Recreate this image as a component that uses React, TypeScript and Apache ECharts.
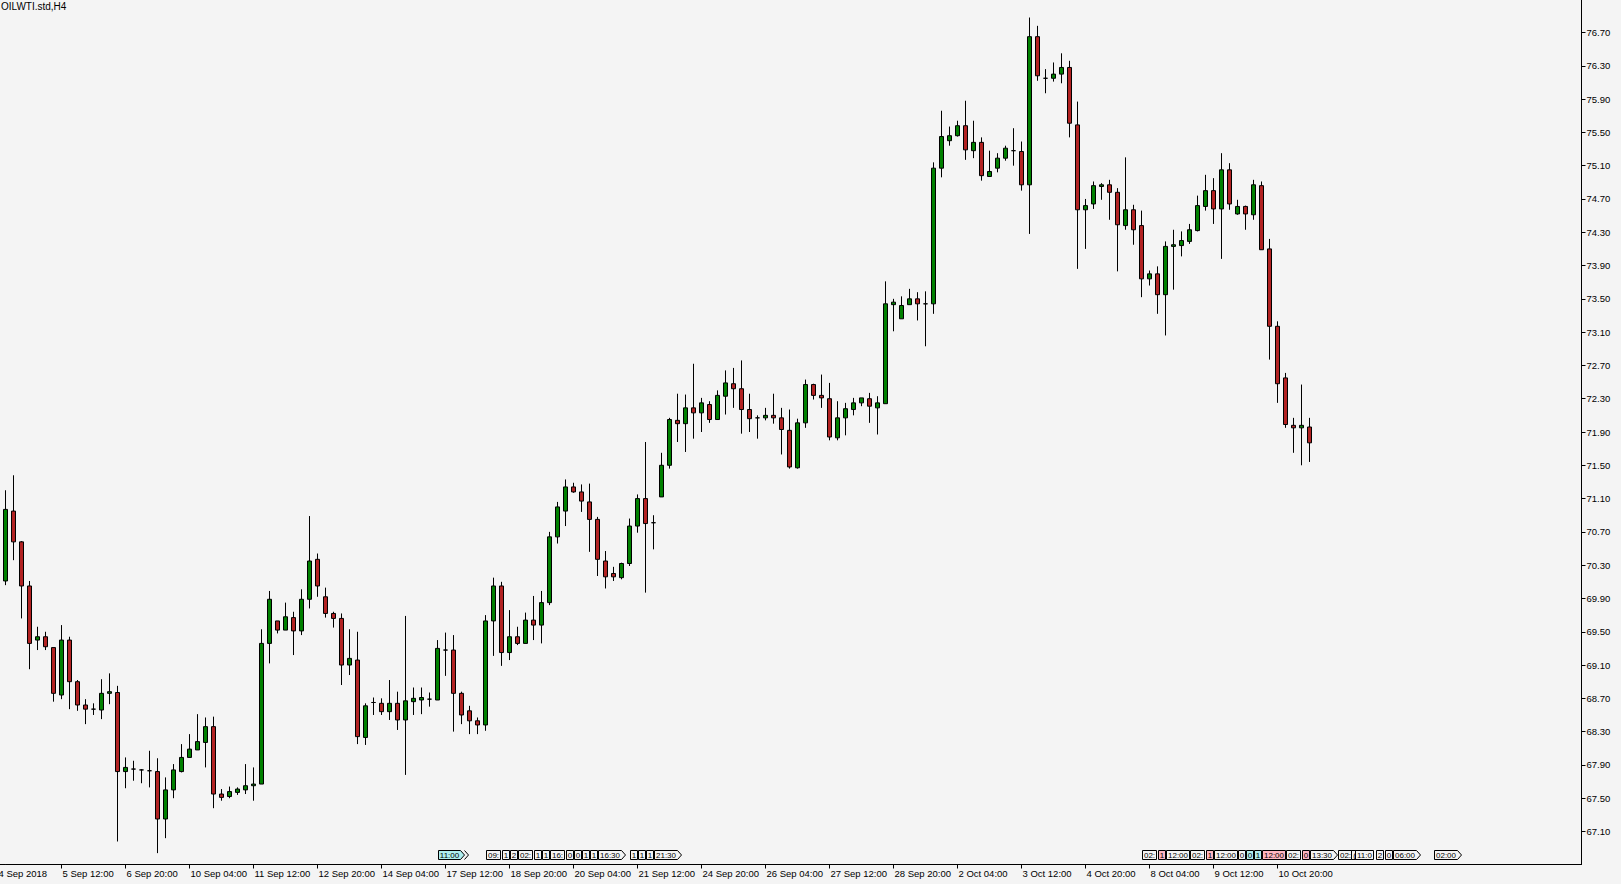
import React, { useEffect, useRef } from "react";
import * as echarts from "echarts";

const symbolTitle = "OILWTI.std,H4";

// H4 bars, oldest first (bar 0 = 4 Sep 2018 08:00)
const openP = [
  70.11, 70.95, 70.58, 70.05, 69.40, 69.44, 69.31, 68.74, 69.40, 68.90,
  68.62, 68.57, 68.56, 68.76, 68.77, 67.82, 67.85, 67.84, 67.83, 67.82,
  67.25, 67.60, 67.82, 67.99, 68.08, 68.17, 68.36, 67.55, 67.52, 67.57,
  67.60, 67.65, 67.67, 69.36, 69.63, 69.52, 69.67, 69.51, 69.89, 70.37,
  69.92, 69.72, 69.66, 69.10, 69.16, 68.23, 68.65, 68.64, 68.54, 68.64,
  68.44, 68.66, 68.68, 68.69, 68.68, 69.28, 69.28, 68.76, 68.55, 68.43,
  68.38, 69.63, 70.05, 69.25, 69.44, 69.36, 69.64, 69.58, 69.85, 70.64,
  70.95, 71.24, 71.18, 71.06, 70.85, 70.35, 70.20, 70.15, 70.32, 70.77,
  71.10, 70.81, 71.12, 71.50, 72.04, 72.00, 72.19, 72.13, 72.23, 72.05,
  72.33, 72.48, 72.42, 72.17, 72.07, 72.07, 72.10, 72.07, 71.92, 71.47,
  72.01, 72.47, 72.34, 72.30, 71.83, 72.07, 72.17, 72.25, 72.30, 72.19,
  72.24, 73.43, 73.26, 73.43, 73.50, 73.44, 73.44, 75.07, 75.40, 75.46,
  75.58, 75.28, 75.38, 74.97, 75.07, 75.19, 75.28, 75.27, 74.87, 76.65,
  76.15, 76.15, 76.20, 76.28, 75.59, 74.57, 74.64, 74.85, 74.87, 74.78,
  74.38, 74.57, 74.38, 73.74, 73.80, 73.55, 74.13, 74.14, 74.19, 74.32,
  74.61, 74.80, 74.58, 75.05, 74.52, 74.61, 74.51, 74.86, 74.10, 73.17,
  72.55, 71.98, 71.95, 71.96,
];
const highP = [
  71.20, 71.38, 70.59, 70.11, 69.56, 69.50, 69.31, 69.58, 69.44, 68.92,
  68.69, 68.64, 68.93, 69.00, 68.85, 67.99, 67.95, 67.85, 68.07, 67.98,
  67.75, 67.91, 68.15, 68.27, 68.51, 68.47, 68.48, 67.61, 67.64, 67.63,
  67.91, 67.87, 69.53, 69.99, 69.63, 69.85, 69.74, 70.01, 70.89, 70.44,
  70.03, 69.74, 69.72, 69.53, 69.50, 68.64, 68.71, 68.70, 68.92, 68.78,
  69.69, 68.83, 68.83, 68.77, 69.40, 69.49, 69.46, 68.78, 68.61, 68.47,
  69.70, 70.15, 70.10, 69.76, 69.56, 69.73, 69.93, 69.99, 70.70, 71.06,
  71.33, 71.29, 71.27, 71.28, 70.88, 70.47, 70.28, 70.33, 70.86, 71.15,
  71.78, 70.90, 71.65, 72.07, 72.36, 72.35, 72.72, 72.31, 72.27, 72.40,
  72.64, 72.67, 72.76, 72.36, 72.10, 72.19, 72.36, 72.19, 72.17, 72.06,
  72.53, 72.48, 72.59, 72.49, 72.27, 72.25, 72.31, 72.31, 72.37, 72.33,
  73.71, 73.50, 73.53, 73.62, 73.58, 73.59, 75.14, 75.76, 75.57, 75.64,
  75.88, 75.64, 75.44, 75.28, 75.25, 75.34, 75.55, 75.39, 76.88, 76.78,
  76.26, 76.34, 76.45, 76.36, 75.87, 74.70, 74.91, 74.89, 74.93, 74.83,
  75.20, 74.63, 74.56, 73.84, 73.89, 74.19, 74.33, 74.31, 74.40, 74.74,
  74.99, 74.95, 75.25, 75.13, 74.69, 74.62, 74.93, 74.91, 74.22, 73.23,
  72.61, 72.07, 72.47, 72.07,
];
const lowP = [
  70.06, 70.36, 69.66, 69.05, 69.28, 69.28, 68.66, 68.69, 68.57, 68.55,
  68.39, 68.50, 68.45, 68.63, 66.98, 67.62, 67.71, 67.68, 67.63, 66.84,
  67.02, 67.50, 67.81, 67.99, 68.08, 67.87, 67.38, 67.47, 67.50, 67.54,
  67.55, 67.47, 67.67, 69.12, 69.48, 69.52, 69.22, 69.46, 69.78, 69.92,
  69.67, 69.55, 68.86, 68.98, 68.15, 68.14, 68.50, 68.50, 68.44, 68.32,
  67.78, 68.50, 68.51, 68.60, 68.68, 68.97, 68.30, 68.39, 68.27, 68.27,
  68.31, 69.21, 69.09, 69.16, 69.34, 69.36, 69.40, 69.36, 69.82, 70.56,
  70.77, 71.17, 70.94, 70.46, 70.17, 70.02, 70.11, 70.13, 70.29, 70.69,
  69.97, 70.49, 71.12, 71.46, 71.78, 71.66, 71.82, 71.90, 72.01, 72.05,
  72.11, 72.19, 71.88, 71.90, 71.82, 72.04, 72.00, 71.63, 71.46, 71.46,
  71.95, 72.29, 72.19, 71.80, 71.80, 71.86, 72.10, 72.21, 72.01, 71.87,
  72.24, 73.11, 73.26, 73.43, 73.24, 72.93, 73.32, 74.96, 75.34, 75.45,
  75.17, 75.19, 74.92, 74.97, 75.02, 75.16, 75.10, 74.80, 74.28, 76.12,
  75.97, 76.11, 76.09, 75.44, 73.86, 74.10, 74.58, 74.69, 74.45, 73.83,
  74.33, 74.15, 73.52, 73.66, 73.32, 73.06, 73.61, 74.01, 74.16, 74.31,
  74.56, 74.40, 73.98, 74.57, 74.51, 74.33, 74.45, 74.09, 72.77, 72.25,
  71.95, 71.65, 71.50, 71.54,
];
const closeP = [
  70.97, 70.58, 70.05, 69.36, 69.44, 69.32, 68.76, 69.40, 68.90, 68.62,
  68.57, 68.57, 68.76, 68.78, 67.82, 67.87, 67.85, 67.84, 67.83, 67.25,
  67.60, 67.84, 67.99, 68.09, 68.18, 68.36, 67.55, 67.51, 67.58, 67.61,
  67.65, 67.67, 69.36, 69.89, 69.52, 69.68, 69.51, 69.89, 70.35, 70.05,
  69.72, 69.66, 69.10, 69.18, 68.24, 68.61, 68.65, 68.54, 68.64, 68.44,
  68.67, 68.70, 68.71, 68.69, 69.30, 69.28, 68.76, 68.50, 68.43, 68.38,
  69.63, 70.05, 69.25, 69.44, 69.36, 69.64, 69.58, 69.85, 70.64, 71.00,
  71.24, 71.18, 71.07, 70.85, 70.37, 70.16, 70.16, 70.32, 70.77, 71.10,
  70.80, 70.81, 71.50, 72.05, 72.00, 72.19, 72.13, 72.25, 72.05, 72.34,
  72.49, 72.42, 72.17, 72.06, 72.07, 72.10, 72.07, 71.93, 71.48, 72.01,
  72.47, 72.34, 72.31, 71.84, 72.07, 72.18, 72.25, 72.31, 72.21, 72.25,
  73.44, 73.46, 73.42, 73.50, 73.44, 73.44, 75.07, 75.45, 75.46, 75.58,
  75.29, 75.38, 74.98, 75.03, 75.19, 75.31, 75.28, 74.87, 76.65, 76.18,
  76.15, 76.20, 76.28, 75.61, 74.57, 74.62, 74.86, 74.87, 74.78, 74.39,
  74.57, 74.33, 73.74, 73.80, 73.55, 74.13, 74.15, 74.20, 74.33, 74.62,
  74.80, 74.58, 75.05, 74.64, 74.61, 74.52, 74.87, 74.09, 73.17, 72.48,
  71.99, 71.95, 71.98, 71.77,
];

// number of bar slots visible on the time axis (data + empty space on the right)
const barSlots = 198;
const categories = Array.from({ length: barSlots }, (_, i) => String(i));

// time-axis labels: the first one sits one bar before the first visible bar
const firstDateLabel = "4 Sep 2018";
const xTickBars = [7, 15, 23, 31, 39, 47, 55, 63, 71, 79, 87, 95, 103, 111, 119, 127, 135, 143, 151, 159];
const xTickLabels = [
  "5 Sep 12:00", "6 Sep 20:00", "10 Sep 04:00", "11 Sep 12:00", "12 Sep 20:00",
  "14 Sep 04:00", "17 Sep 12:00", "18 Sep 20:00", "20 Sep 04:00", "21 Sep 12:00",
  "24 Sep 20:00", "26 Sep 04:00", "27 Sep 12:00", "28 Sep 20:00", "2 Oct 04:00",
  "3 Oct 12:00", "4 Oct 20:00", "8 Oct 04:00", "9 Oct 12:00", "10 Oct 20:00",
];

// price scale
const priceMin = 66.7035;
const priceMax = 77.0905;
const priceTicks = [
  67.1, 67.5, 67.9, 68.3, 68.7, 69.1, 69.5, 69.9, 70.3, 70.7, 71.1, 71.5, 71.9,
  72.3, 72.7, 73.1, 73.5, 73.9, 74.3, 74.7, 75.1, 75.5, 75.9, 76.3, 76.7,
];

// economic calendar event tags along the time axis
const eventBars = [
  54, 60, 62, 63, 64, 66, 67, 68, 70, 71, 72, 73, 74, 78, 79, 80, 81,
  142, 144, 145, 148, 150, 151, 154, 155, 156, 157, 160, 162, 163, 166.5, 168.2, 168.7, 171.3, 172.4, 173.4, 178.5,
];
const eventTexts = [
  "11:00", "09:", "1", "2", "02:", "1", "1", "16:", "0", "0", "1", "1", "16:30", "1", "1", "1", "21:30",
  "02:", "1", "12:00", "02:", "1", "12:00", "0", "0", "1", "12:00", "02:", "0", "13:30", "02:", "(", "11:0", "2", "0", "06:00", "02:00",
];
const eventImpact = [
  1, 0, 0, 0, 0, 0, 0, 0, 0, 0, 0, 0, 0, 0, 0, 0, 0,
  0, 2, 0, 0, 2, 0, 0, 1, 1, 2, 0, 2, 0, 0, 0, 0, 0, 0, 0, 0,
];
const eventArrows = [
  2, 0, 0, 0, 0, 0, 0, 0, 0, 0, 0, 0, 1, 0, 0, 0, 1,
  0, 0, 0, 0, 0, 0, 0, 0, 0, 0, 0, 0, 1, 0, 0, 0, 0, 0, 1, 1,
];

const FONT = "'Liberation Sans', Arial, sans-serif";
const BULL = "#008000";
const BEAR = "#b22222";
const BG = "#f4f4f4";
const IMPACT_FILL = [BG, "#afeeee", "#ffb6c1"];

export default function App() {
  const ref = useRef<HTMLDivElement>(null);

  useEffect(() => {
    const el = ref.current;
    if (!el) return;
    const chart = echarts.init(el, undefined, { renderer: "svg" });

    const labelMap = new Map<number, string>();
    xTickBars.forEach((b, i) => labelMap.set(b, xTickLabels[i]));
    const showAt = (i: number) => labelMap.has(i);

    const candleData = openP.map((o, i) => [o, closeP[i], lowP[i], highP[i]]);

    chart.setOption({
      animation: false,
      backgroundColor: BG,
      grid: { left: 5.5, right: 39.5, top: 0, bottom: 19.5, containLabel: false },
      xAxis: {
        type: "category",
        data: categories,
        boundaryGap: false,
        axisLine: { show: true, onZero: false, lineStyle: { color: "#000", width: 1 } },
        axisTick: { show: true, length: 4, interval: (i: number) => showAt(i), lineStyle: { color: "#000" } },
        axisLabel: {
          show: true,
          interval: (i: number) => showAt(i),
          formatter: (v: string) => labelMap.get(Number(v)) ?? "",
          align: "left",
          margin: 4,
          color: "#000",
          fontFamily: FONT,
          fontSize: 9.5,
          padding: [0, 0, 0, 1],
        },
        splitLine: { show: false },
      },
      yAxis: {
        type: "value",
        position: "right",
        min: priceMin,
        max: priceMax,
        axisLine: { show: true, onZero: false, lineStyle: { color: "#000", width: 1 } },
        axisTick: { show: true, length: 4, customValues: priceTicks, lineStyle: { color: "#000" } },
        axisLabel: {
          show: true,
          customValues: priceTicks,
          formatter: (v: number) => v.toFixed(2),
          margin: 5,
          color: "#000",
          fontFamily: FONT,
          fontSize: 9.5,
        },
        splitLine: { show: false },
      },
      series: [
        {
          type: "candlestick",
          data: candleData,
          barWidth: 4,
          clip: false,
          itemStyle: {
            color: BULL,
            color0: BEAR,
            borderColor: "#000",
            borderColor0: "#000",
            borderWidth: 1,
          },
        },
      ],
    });

    const x0 = chart.convertToPixel({ xAxisIndex: 0 }, "0") as number;
    const x1 = chart.convertToPixel({ xAxisIndex: 0 }, "1") as number;
    const step = x1 - x0;
    const yBase = chart.convertToPixel({ yAxisIndex: 0 }, priceMin) as number;

    const canvas = document.createElement("canvas");
    const ctx = canvas.getContext("2d");
    const measure = (t: string) => {
      if (!ctx) return t.length * 4.5;
      ctx.font = `8px ${FONT}`;
      return ctx.measureText(t).width;
    };

    const graphics: any[] = [];
    graphics.push({
      type: "text",
      x: 1,
      y: 1,
      silent: true,
      style: { text: symbolTitle, fontSize: 10, fontFamily: FONT, fill: "#000", align: "left", verticalAlign: "top", textAlign: "left", textVerticalAlign: "top" },
    });
    graphics.push({
      type: "text",
      x: x0 - step + 1,
      y: yBase + 4,
      silent: true,
      style: { text: firstDateLabel, fontSize: 9.5, fontFamily: FONT, fill: "#000", align: "left", verticalAlign: "top", textAlign: "left", textVerticalAlign: "top" },
    });
    graphics.push({
      type: "line",
      silent: true,
      shape: { x1: 0, y1: yBase, x2: x0, y2: yBase },
      style: { stroke: "#000", lineWidth: 1 },
    });

    const top = Math.round(yBase - 14.5) + 0.5;
    const bottom = top + 9;
    const mid = (top + bottom) / 2;
    eventBars.forEach((bar, i) => {
      const text = eventTexts[i];
      const l = Math.round(x0 + bar * step) + 0.5;
      const w = Math.max(6, Math.round(measure(text) + 3));
      const r = l + w;
      const arrows = eventArrows[i];
      const pts = arrows > 0
        ? [[l, top], [r, top], [r + 4, mid], [r, bottom], [l, bottom]]
        : [[l, top], [r, top], [r, bottom], [l, bottom]];
      graphics.push({
        type: "polygon",
        silent: true,
        shape: { points: pts },
        style: { fill: IMPACT_FILL[eventImpact[i]], stroke: "#000", lineWidth: 1 },
      });
      for (let a = 1; a < arrows; a++) {
        graphics.push({
          type: "polyline",
          silent: true,
          shape: { points: [[r + 4 * a, top], [r + 4 * a + 4, mid], [r + 4 * a, bottom]] },
          style: { stroke: "#000", lineWidth: 1, fill: null },
        });
      }
      graphics.push({
        type: "text",
        silent: true,
        x: (l + r) / 2,
        y: mid + 0.5,
        style: { text, fontSize: 8, fontFamily: FONT, fill: "#000", align: "center", verticalAlign: "middle", textAlign: "center", textVerticalAlign: "middle" },
      });
    });

    chart.setOption({ graphic: graphics });

    return () => {
      chart.dispose();
    };
  }, []);

  return (
    <div
      ref={ref}
      style={{ position: "fixed", left: 0, top: 0, width: 1621, height: 884, background: BG }}
    />
  );
}
